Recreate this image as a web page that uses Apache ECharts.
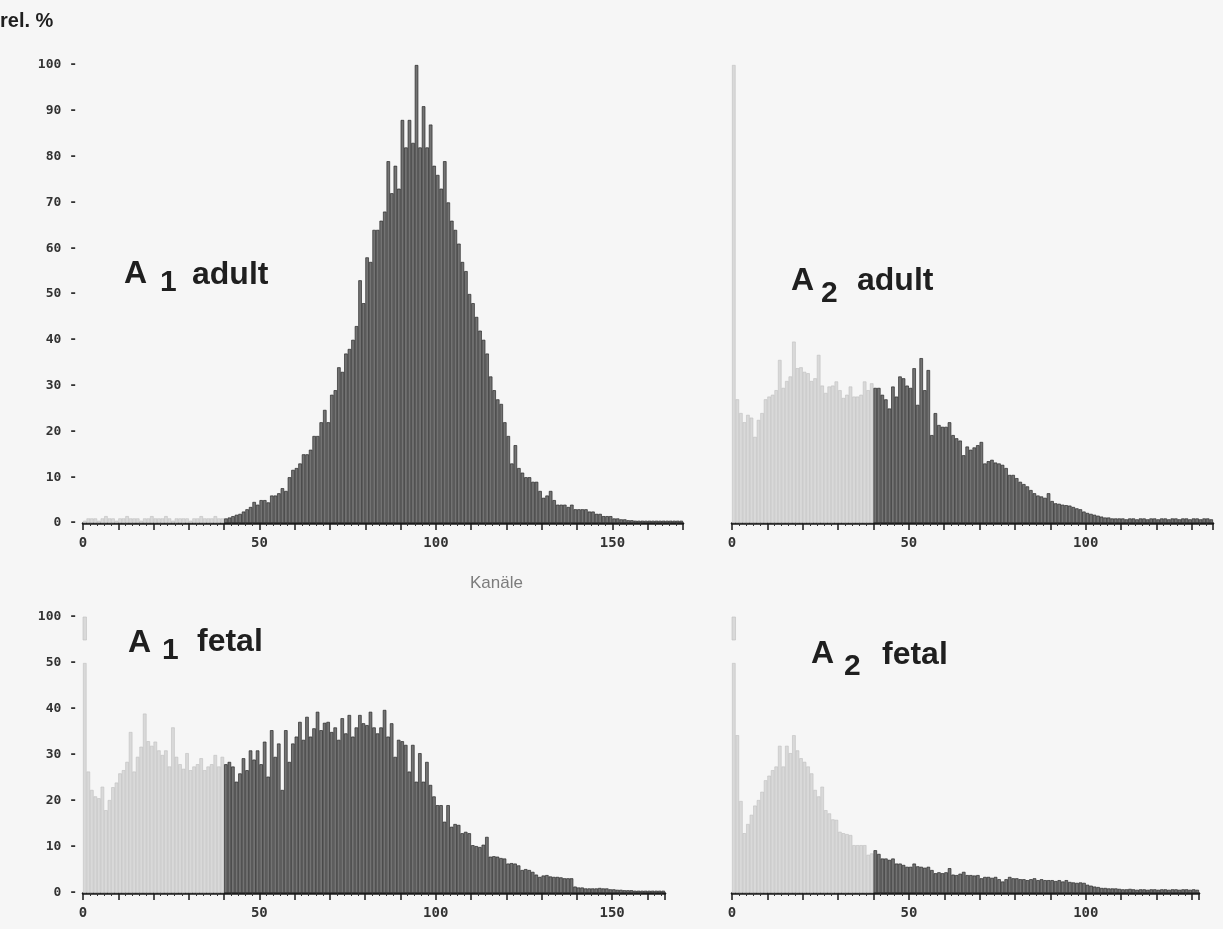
<!DOCTYPE html>
<html>
<head>
<meta charset="utf-8">
<title>A1 / A2 adult / fetal</title>
<script src="https://cdn.jsdelivr.net/npm/echarts@6/dist/echarts.min.js"></script>
<style>
  body { margin: 0; padding: 0; background: #f6f6f6; }
  #main { width: 1223px; height: 929px; }
</style>
</head>
<body>
<div id="main"></div>
<script>
// rel. % pro Kanal, Kanal 0 zuerst
const A1_ADULT = [
  0.5, 1, 1, 1, 0.5, 1, 1.5, 1, 1, 0.5,
  1, 1, 1.5, 1, 1, 1, 0.5, 1, 1, 1.5,
  1, 1, 1, 1.5, 1, 0.5, 1, 1, 1, 1,
  0.5, 1, 1, 1.5, 1, 1, 1, 1.5, 1, 1,
  1, 1.2, 1.5, 1.8, 2, 2.5, 3, 3.5, 4.6, 4,
  5, 5, 4.5, 6, 6, 6.5, 7.6, 7, 10, 11.6,
  12, 13, 15, 15, 16, 19, 19, 22, 24.7, 22,
  28, 29, 34, 33, 37, 38, 40, 43, 53, 48,
  58, 57, 64, 64, 66, 68, 79, 72, 78, 73,
  88, 82, 88, 83, 100, 82, 91, 82, 87, 78,
  76, 73, 79, 70, 66, 64, 61, 57, 55, 50,
  48, 45, 42, 40, 37, 32, 29, 27, 26, 22,
  19, 13, 17, 12, 11, 10, 10, 9, 9, 7,
  5.5, 6, 7, 5, 4, 4, 4, 3.5, 4, 3,
  3, 3, 3, 2.5, 2.5, 2, 2, 1.5, 1.5, 1.5,
  1, 1, 0.8, 0.8, 0.6, 0.6, 0.5, 0.5, 0.5, 0.5,
  0.5, 0.5, 0.5, 0.5, 0.5, 0.5, 0.5, 0.5, 0.5, 0.5
];
const A2_ADULT = [
  100, 27, 24, 22, 23.6, 23, 18.8, 22.5, 24, 27,
  27.6, 28, 29, 35.6, 29.5, 31, 32, 39.6, 33.8, 34,
  33, 32.7, 31, 31.6, 36.7, 30, 28.4, 29.8, 30, 30.9,
  29, 27.3, 28, 29.8, 27.6, 27.6, 28, 30.9, 29, 30.5,
  29.5, 29.5, 28, 27, 25, 29.8, 27.6, 32, 31.6, 30,
  29.5, 33.8, 25.8, 36, 29, 33.4, 19.2, 24, 21.4, 21,
  21, 22, 19.2, 18.5, 18, 14.8, 16.7, 16, 16.5, 17,
  17.7, 13, 13.5, 13.8, 13.2, 13, 12.7, 12, 10.5, 10.5,
  9.8, 9, 8.5, 8, 7.2, 6.5, 6, 5.8, 5.5, 6.5,
  4.8, 4.3, 4.2, 4, 3.9, 3.8, 3.5, 3.2, 3, 2.5,
  2.2, 2, 1.8, 1.6, 1.4, 1.2, 1.2, 1, 1, 1,
  1, 0.8, 1, 1, 0.8, 1, 1, 0.8, 1, 1,
  0.8, 1, 1, 0.8, 1, 1, 0.8, 1, 1, 0.8,
  1, 1, 0.8, 1, 1, 0.8
];
const A1_FETAL = [
  100, 26.4, 22.4, 21, 20.6, 23.1, 18, 20.2, 23, 24,
  26, 26.7, 28.5, 35, 26.4, 29.6, 31.8, 39, 33, 32,
  32.9, 31, 30, 31, 27.5, 36, 29.6, 28, 27, 30.4,
  26.7, 27.5, 28, 29.3, 26.7, 27.5, 28, 30, 27.5, 29.6,
  28, 28.5, 27.5, 24.2, 26, 29.3, 26.7, 31, 29, 31,
  28, 32.9, 25.3, 35.4, 29.6, 32.5, 22.4, 35.4, 28.5, 32.5,
  34, 37.2, 33.3, 38.3, 34, 35.8, 39.4, 35.4, 37, 37.2,
  35, 36, 33.3, 38, 34.7, 38.7, 34, 36, 38.7, 36.9,
  36.5, 39.4, 36, 34.7, 36, 39.8, 34, 36.9, 29.6, 33.3,
  33, 32.2, 26.4, 32.2, 24.2, 30.4, 24.2, 28.5, 23.5, 21,
  19.1, 19.1, 15.5, 19.1, 14.4, 15, 14.8, 13, 13.3, 13,
  10.4, 10.2, 10, 10.5, 12.2, 7.9, 8, 7.9, 7.6, 7.5,
  6.4, 6.5, 6.4, 6, 5, 5.2, 5, 4.6, 4, 3.5,
  3.8, 3.9, 3.6, 3.5, 3.5, 3.4, 3.2, 3.2, 3.2, 1.4,
  1.2, 1.2, 1, 1, 1, 1, 1.1, 1, 1, 0.8,
  0.8, 0.7, 0.7, 0.6, 0.6, 0.6, 0.5, 0.5, 0.5, 0.5,
  0.5, 0.5, 0.5, 0.5, 0.5
];
const A2_FETAL = [
  100, 34.3, 20, 13, 15, 17, 19, 20.2, 22, 24.5,
  25.5, 26.7, 27.5, 32, 27.5, 32, 30.4, 34.3, 31, 29.3,
  28.5, 27.5, 26, 22.4, 21, 23.1, 18, 17.3, 16, 15.9,
  13.3, 13, 12.8, 12.6, 10.4, 10.4, 10.4, 10.4, 8.3, 8.6,
  9.3, 8.5, 7.5, 7.5, 7.2, 7.5, 6.4, 6.4, 6.1, 5.7,
  5.7, 6.4, 5.8, 5.7, 5.5, 5.7, 5, 4.3, 4.5, 4.3,
  4.5, 5.4, 4, 3.9, 4.2, 4.6, 3.9, 3.9, 3.8, 3.9,
  3.2, 3.5, 3.5, 3.3, 3.5, 3, 2.5, 3, 3.5, 3.2,
  3.2, 3, 3, 2.8, 3, 3.2, 2.8, 3, 2.8, 2.8,
  2.8, 2.6, 2.8, 2.5, 2.8, 2.4, 2.3, 2.2, 2.3, 2.2,
  1.8, 1.6, 1.4, 1.3, 1.1, 1.1, 1, 1, 1, 0.9,
  0.8, 0.8, 0.9, 0.8, 0.7, 0.8, 0.8, 0.7, 0.8, 0.8,
  0.7, 0.8, 0.8, 0.7, 0.8, 0.8, 0.7, 0.8, 0.8, 0.7,
  0.8, 0.7
];

const SPLIT_CHANNEL = 40;          // ab hier dunkle Balken
const X_TICK_LABELS = [0, 50, 100, 150];
const Y_TICKS_TOP = [0, 10, 20, 30, 40, 50, 60, 70, 80, 90, 100];
const Y_TICKS_BOTTOM = [0, 10, 20, 30, 40, 50, 100];   // Achse unterbrochen nach 50

// Achsenbruch unten: 50..100 wird auf 10 Einheiten gestaucht
const BREAK_FROM = 50;
const BREAK_SPAN = 10;
const BREAK_GAP = 5;

const LIGHT = { color: '#d9d9d9', borderColor: '#c0c0c0', borderWidth: 0.6 };
const DARK = { color: '#737373', borderColor: '#2a2a2a', borderWidth: 0.7 };

const panels = [
  { values: A1_ADULT, left: 83, top: 65, width: 600, height: 458, xMax: 170, yMax: 100, yTicks: Y_TICKS_TOP, broken: false },
  { values: A2_ADULT, left: 732, top: 65, width: 481, height: 458, xMax: 136, yMax: 100, yTicks: null, broken: false },
  { values: A1_FETAL, left: 83, top: 617, width: 582, height: 276, xMax: 165, yMax: 60, yTicks: Y_TICKS_BOTTOM, broken: true },
  { values: A2_FETAL, left: 732, top: 617, width: 467, height: 276, xMax: 132, yMax: 60, yTicks: null, broken: true }
];

function toDisplay(v, broken) {
  if (!broken || v <= BREAK_FROM) return v;
  return BREAK_FROM + (v - BREAK_FROM) * BREAK_SPAN / BREAK_FROM;
}

const chart = echarts.init(document.getElementById('main'));

const grid = [], xAxis = [], yAxis = [], series = [];
panels.forEach((p, i) => {
  grid.push({ left: p.left, top: p.top, width: p.width, height: p.height });
  xAxis.push({
    type: 'value', gridIndex: i, min: 0, max: p.xMax, interval: 10,
    axisLine: { lineStyle: { color: '#1a1a1a', width: 2.5 } },
    axisTick: { length: 7, lineStyle: { color: '#1a1a1a', width: 1.5 } },
    minorTick: { show: true, splitNumber: 5, length: 3, lineStyle: { color: '#333', width: 1 } },
    splitLine: { show: false },
    axisLabel: {
      margin: 13, color: '#333', fontFamily: 'DejaVu Sans Mono', fontWeight: 'bold', fontSize: 14,
      formatter: v => X_TICK_LABELS.includes(v) ? String(v) : ''
    }
  });
  yAxis.push({
    type: 'value', gridIndex: i, min: 0, max: p.yMax, interval: 10,
    axisLine: { show: false }, axisTick: { show: false }, splitLine: { show: false },
    axisLabel: {
      show: !!p.yTicks, margin: 6, color: '#333', fontFamily: 'DejaVu Sans Mono', fontWeight: 'bold', fontSize: 13,
      formatter: v => p.yTicks ? p.yTicks[Math.round(v / 10)] + ' -' : ''
    }
  });

  const main = [], tops = [];
  p.values.forEach((v, ch) => {
    const d = toDisplay(v, p.broken);
    const x = ch + 0.5;
    main.push({ value: [x, p.broken ? Math.min(d, BREAK_FROM) : d], itemStyle: ch < SPLIT_CHANNEL ? LIGHT : DARK });
    // oberes Stück jenseits des Achsenbruchs
    if (p.broken && d > BREAK_FROM + BREAK_GAP) tops.push([x, BREAK_FROM + BREAK_GAP, d, ch < SPLIT_CHANNEL ? 1 : 0]);
  });
  series.push({ type: 'bar', xAxisIndex: i, yAxisIndex: i, barWidth: '100%', silent: true, data: main });
  if (tops.length) {
    series.push({
      type: 'custom', xAxisIndex: i, yAxisIndex: i, silent: true, data: tops,
      renderItem: (params, api) => {
        const x = api.value(0);
        const a = api.coord([x - 0.5, api.value(2)]);
        const b = api.coord([x + 0.5, api.value(1)]);
        const s = api.value(3) ? LIGHT : DARK;
        return {
          type: 'rect',
          shape: { x: a[0], y: a[1], width: b[0] - a[0], height: b[1] - a[1] },
          style: { fill: s.color, stroke: s.borderColor, lineWidth: s.borderWidth }
        };
      }
    });
  }
});

// Beschriftungen "A 1 adult" usw.
const TITLES = [
  { A: [124, 274], sub: ['1', 160, 283], word: ['adult', 192, 275] },
  { A: [791, 281], sub: ['2', 821, 294], word: ['adult', 857, 281] },
  { A: [128, 643], sub: ['1', 162, 651], word: ['fetal', 197, 642] },
  { A: [811, 654], sub: ['2', 844, 667], word: ['fetal', 882, 655] }
];
const graphic = [];
const txt = (text, x, y, size) => ({
  type: 'text', x: x, y: y, silent: true,
  style: { text: text, fill: '#1f1f1f', font: 'bold ' + size + 'px "Liberation Sans", Arial, sans-serif', textVerticalAlign: 'middle' }
});
TITLES.forEach(t => {
  graphic.push(txt('A', t.A[0], t.A[1], 32));
  graphic.push(txt(t.sub[0], t.sub[1], t.sub[2], 30));
  graphic.push(txt(t.word[0], t.word[1], t.word[2], 32));
});
graphic.push(txt('rel. %', 0, 21, 20));
graphic.push({
  type: 'text', x: 470, y: 583, silent: true,
  style: { text: 'Kanäle', fill: '#7c7c7c', font: '17px "Liberation Sans", Arial, sans-serif', textVerticalAlign: 'middle' }
});

chart.setOption({
  backgroundColor: '#f6f6f6',
  animation: false,
  grid: grid,
  xAxis: xAxis,
  yAxis: yAxis,
  series: series,
  graphic: graphic
});
window.addEventListener('resize', function () {
  chart.resize();
});
</script>
</body>
</html>
